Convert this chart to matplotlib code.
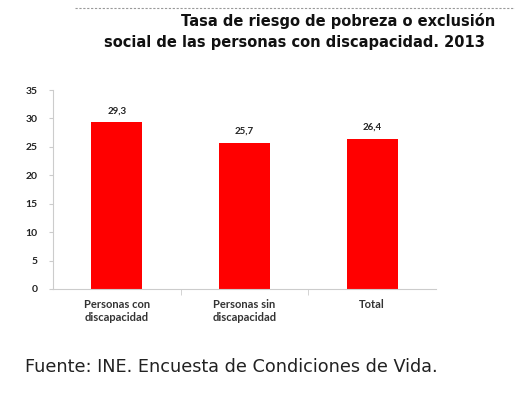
import matplotlib
matplotlib.use("Agg")
import matplotlib.pyplot as plt
from matplotlib.lines import Line2D

categories = ["Personas con\ndiscapacidad", "Personas sin\ndiscapacidad", "Total"]
values = [29.3, 25.7, 26.4]
value_labels = ["29,3", "25,7", "26,4"]
yticks = [0, 5, 10, 15, 20, 25, 30, 35]

W, H = 515, 396
fig = plt.figure(figsize=(W/100, H/100), dpi=100)
fig.patch.set_facecolor("white")

ax = fig.add_axes([53/W, 1-289/H, (436-53)/W, (289-90)/H])
x = range(len(categories))
ax.bar(x, values, width=0.4, color="#ff0000")
ax.set_xlim(-0.5, 2.5)
ax.set_ylim(0, 35)
ax.set_yticks(yticks)
ax.set_yticklabels([str(t) for t in yticks], fontsize=7.5, fontweight="bold",
                   family="Lato", color="#222222")
ax.set_xticks(list(x))
ax.set_xticklabels(categories, fontsize=8, fontweight="bold", family="Lato",
                   color="#333333", linespacing=1.25)
ax.set_xticks([0.5, 1.5], minor=True)
ax.tick_params(axis="x", which="major", length=0, pad=7)
ax.tick_params(axis="x", which="minor", length=4, color="#cccccc", direction="out")
ax.tick_params(axis="y", length=3, color="#cccccc", pad=8)
for s in ["top", "right"]:
    ax.spines[s].set_visible(False)
ax.spines["left"].set_color("#cccccc")
ax.spines["bottom"].set_color("#cccccc")
for xi, v, lab in zip(x, values, value_labels):
    ax.text(xi, v + 1.2, lab, ha="center", va="bottom", fontsize=7,
            fontweight="bold", family="Lato", color="#222222")

fig.add_artist(Line2D([75/W, 1], [1-8/H, 1-8/H], color="#999999", lw=0.8,
                      linestyle=(0, (2, 1.5))))
fig.text(495/W, 1-21/H, "Tasa de riesgo de pobreza o exclusión", ha="right",
         va="center", fontsize=10.5, fontweight="bold", family="DejaVu Sans", color="#111111")
fig.text(485/W, 1-42/H, "social de las personas con discapacidad. 2013", ha="right",
         va="center", fontsize=10.5, fontweight="bold", family="DejaVu Sans", color="#111111")
fig.text(25/W, 1-367/H, "Fuente: INE. Encuesta de Condiciones de Vida.", ha="left",
         va="center", fontsize=12.7, family="DejaVu Sans", color="#222222")

fig.savefig("out.png", dpi=100, facecolor="white")
